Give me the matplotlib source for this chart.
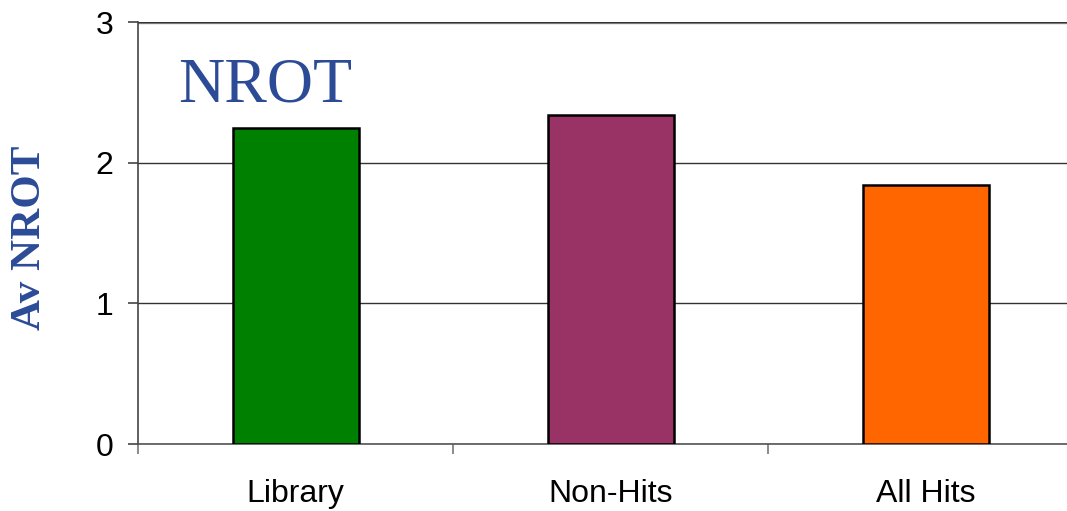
import matplotlib
matplotlib.use("Agg")
import matplotlib.pyplot as plt

# Average NROT per compound group
groups = ["Library", "Non-Hits", "All Hits"]
av_nrot = [2.25, 2.34, 1.84]
bar_colors = ["#008000", "#993366", "#FF6600"]
y_ticks = [0, 1, 2, 3]

title_blue = "#2B4B97"

fig = plt.figure(figsize=(10.67, 5.11), dpi=100)
# axis runs a little past the right edge of the figure
ax = fig.add_axes([138 / 1067, 67 / 511, 945 / 1067, 422 / 511])

pos = range(1, len(groups) + 1)
ax.bar(pos, av_nrot, width=0.4, color=bar_colors, edgecolor="black",
       linewidth=1.8, zorder=3)

ax.set_xlim(0.5, len(groups) + 0.5)
ax.set_ylim(0, 3)
ax.set_yticks(y_ticks)
ax.set_yticklabels([str(t) for t in y_ticks], fontsize=23, family="Liberation Sans")
ax.set_xticks(list(pos))
ax.set_xticklabels(groups, fontsize=23, family="Liberation Sans")
ax.set_xticks([p + 0.5 for p in range(len(groups) + 1)], minor=True)

ax.tick_params(axis="x", which="major", length=0, pad=25)
ax.tick_params(axis="x", which="minor", length=7.5, width=1.2, color="#777777")
ax.tick_params(axis="y", length=7.5, width=1.2, color="#444444", pad=10)

ax.grid(axis="y", color="#333333", linewidth=1.0, zorder=0)
ax.axhline(3, color="#8a8a8a", linewidth=2.4, zorder=1)

for side in ["top", "right"]:
    ax.spines[side].set_visible(False)
ax.spines["left"].set_color("#444444")
ax.spines["left"].set_linewidth(1.2)
ax.spines["bottom"].set_color("#555555")
ax.spines["bottom"].set_linewidth(1.2)

fig.text(178 / 1067, 1 - 102 / 511, "NROT",
         fontsize=46, family="Liberation Serif", color=title_blue,
         ha="left", va="baseline")
fig.text(30 / 1067, 1 - 238 / 511, "Av NROT",
         fontsize=31, family="Liberation Serif", fontweight="bold",
         color=title_blue, rotation=90, ha="center", va="center")

fig.savefig("out.png", dpi=100)
